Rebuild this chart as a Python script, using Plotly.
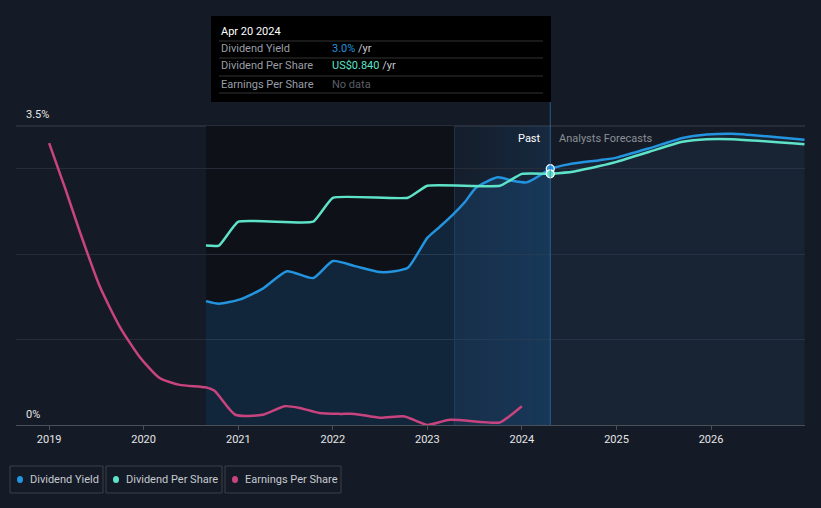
import plotly.graph_objects as go
import datetime as _dt

# ---------------- data ----------------
yield_dates = ["2020-08-29", "2020-10-18", "2021-01-08", "2021-04-07", "2021-07-08", "2021-10-17",
               "2022-01-01", "2022-03-27", "2022-07-01", "2022-08-28", "2022-10-18", "2022-12-03",
               "2023-01-01", "2023-02-18", "2023-04-09", "2023-05-26", "2023-07-09", "2023-09-30",
               "2023-11-26", "2024-01-19", "2024-04-20"]
yield_vals = [1.45, 1.42, 1.47, 1.60, 1.80, 1.72,
              1.92, 1.86, 1.79, 1.80, 1.84, 2.05,
              2.19, 2.32, 2.46, 2.61, 2.78, 2.90,
              2.86, 2.84, 3.00]

yield_fc_dates = ["2024-04-20", "2024-05-01", "2024-07-16", "2024-10-27", "2025-01-01", "2025-05-08",
                  "2025-09-13", "2025-12-16", "2026-03-25", "2026-08-04", "2026-12-28"]
yield_fc_vals = [3.00, 3.01, 3.06, 3.10, 3.13, 3.24, 3.36, 3.40, 3.41, 3.38, 3.34]

dps_dates = ["2020-08-29", "2020-10-18", "2021-01-01", "2021-10-17", "2022-01-01", "2022-10-18",
             "2023-01-01", "2023-10-08", "2024-01-01", "2024-04-20"]
dps_vals = [0.60, 0.60, 0.68, 0.68, 0.76, 0.76, 0.80, 0.80, 0.84, 0.84]

dps_fc_dates = ["2024-04-20", "2024-07-16", "2024-10-27", "2025-01-01", "2025-05-08",
                "2025-09-13", "2025-12-16", "2026-03-25", "2026-12-28"]
dps_fc_vals = [0.84, 0.847, 0.866, 0.88, 0.914, 0.947, 0.956, 0.956, 0.939]

eps_dates = ["2019-01-01", "2019-03-04", "2019-05-01", "2019-07-16", "2019-10-01", "2019-12-16",
             "2020-03-03", "2020-05-19", "2020-08-29", "2020-10-01", "2020-12-20", "2021-04-06",
             "2021-06-28", "2021-08-26", "2021-11-10", "2022-01-30", "2022-03-26", "2022-07-02",
             "2022-10-05", "2022-11-25", "2023-01-01", "2023-03-29", "2023-10-08", "2023-11-13",
             "2024-01-01"]
eps_vals = [3.30, 2.77, 2.25, 1.62, 1.15, 0.80,
            0.55, 0.47, 0.44, 0.40, 0.12, 0.12,
            0.22, 0.20, 0.14, 0.13, 0.13, 0.085,
            0.10, 0.04, 0.0, 0.06, 0.03, 0.10,
            0.22]

x_ticks = ["2019-01-01", "2020-01-01", "2021-01-01", "2022-01-01", "2023-01-01",
           "2024-01-01", "2025-01-01", "2026-01-01"]
x_tick_labels = ["2019", "2020", "2021", "2022", "2023", "2024", "2025", "2026"]

legend_names = ["Dividend Yield", "Dividend Per Share", "Earnings Per Share"]

today = "2024-04-20"
past_start = "2023-04-16"
data_start = "2020-08-29"

# ---------------- style ----------------
BG = "#151b26"
BLUE = "#2394df"
TEAL = "#5ee2c8"
PINK = "#c9447f"
FONT = "Roboto"

W, H = 821, 508
L, R, T, B = 16, 805, 126, 425


def px(x):
    return (x - L) / (R - L)


def py(y):
    return (B - y) / (B - T)


fig = go.Figure()

fig.add_trace(go.Scatter(x=yield_dates, y=yield_vals, mode="lines", fill="tozeroy",
                         fillcolor="rgba(30,110,180,0.22)",
                         line=dict(color=BLUE, width=2.5, shape="spline", smoothing=0.6),
                         showlegend=False, hoverinfo="skip"))
fig.add_trace(go.Scatter(x=yield_fc_dates, y=yield_fc_vals, mode="lines", fill="tozeroy",
                         fillcolor="rgba(40,90,140,0.14)",
                         line=dict(color=BLUE, width=2.5, shape="spline", smoothing=0.6),
                         showlegend=False, hoverinfo="skip"))
fig.add_trace(go.Scatter(x=dps_dates, y=dps_vals, yaxis="y2", mode="lines",
                         line=dict(color=TEAL, width=2.5, shape="spline", smoothing=0.4),
                         showlegend=False, hoverinfo="skip"))
fig.add_trace(go.Scatter(x=dps_fc_dates, y=dps_fc_vals, yaxis="y2", mode="lines",
                         line=dict(color=TEAL, width=2.5, shape="spline", smoothing=0.6),
                         showlegend=False, hoverinfo="skip"))
fig.add_trace(go.Scatter(x=eps_dates, y=eps_vals, yaxis="y3", mode="lines",
                         line=dict(color=PINK, width=2.5, shape="spline", smoothing=0.6),
                         showlegend=False, hoverinfo="skip"))
fig.add_trace(go.Scatter(x=[today], y=[yield_vals[-1]], mode="markers",
                         marker=dict(color=BLUE, size=8, line=dict(color="white", width=1.2)),
                         showlegend=False, hoverinfo="skip"))
fig.add_trace(go.Scatter(x=[today], y=[dps_vals[-1]], yaxis="y2", mode="markers",
                         marker=dict(color=TEAL, size=8, line=dict(color="white", width=1.2)),
                         showlegend=False, hoverinfo="skip"))

shapes = []
shapes.append(dict(type="line", xref="paper", yref="paper", x0=0, x1=1, y0=1, y1=1,
                   line=dict(color="#3c424c", width=1), layer="below"))
shapes.append(dict(type="rect", xref="x", yref="paper", x0=data_start, x1=past_start, y0=0, y1=1,
                   fillcolor="#0e1218", line=dict(width=0), layer="below"))
d0 = _dt.date.fromisoformat(past_start)
d1 = _dt.date.fromisoformat(today)
n = 12
span = (d1 - d0).days
for i in range(n):
    a0 = d0 + _dt.timedelta(days=span * i / n)
    a1 = d0 + _dt.timedelta(days=span * (i + 1) / n)
    alpha = 0.05 + 0.22 * (i + 1) / n
    shapes.append(dict(type="rect", xref="x", yref="paper", x0=a0.isoformat(), x1=a1.isoformat(), y0=0, y1=1,
                       fillcolor=f"rgba(25,80,130,{alpha:.3f})", line=dict(width=0), layer="below"))
shapes.append(dict(type="line", xref="x", yref="paper", x0=past_start, x1=past_start, y0=0, y1=1,
                   line=dict(color="rgba(40,80,110,0.5)", width=1), layer="below"))
shapes.append(dict(type="line", xref="x", yref="paper", x0=today, x1=today, y0=0, y1=py(100),
                   line=dict(color="rgba(45,120,180,0.7)", width=1), layer="above"))
# tooltip
shapes.append(dict(type="rect", xref="paper", yref="paper", x0=px(211), x1=px(551), y0=py(102), y1=py(16),
                   fillcolor="#000000", line=dict(width=0), layer="above"))
for yy in [41, 58, 76, 93]:
    shapes.append(dict(type="line", xref="paper", yref="paper", x0=px(219), x1=px(543), y0=py(yy), y1=py(yy),
                       line=dict(color="#333333", width=1), layer="above"))

annotations = []
legend_colors = [BLUE, TEAL, PINK]
legend_widths = [93, 116, 116]
x0 = 10
for name, col, wdt in zip(legend_names, legend_colors, legend_widths):
    x1 = x0 + wdt
    shapes.append(dict(type="rect", xref="paper", yref="paper", x0=px(x0), x1=px(x1), y0=py(493), y1=py(466),
                       fillcolor="rgba(0,0,0,0)", line=dict(color="#3a3f48", width=1), layer="above"))
    shapes.append(dict(type="circle", xref="paper", yref="paper", x0=px(x0 + 7), x1=px(x0 + 13),
                       y0=py(483), y1=py(476), fillcolor=col, line=dict(width=0), layer="above"))
    annotations.append(dict(text=name, xref="paper", yref="paper", x=px(x0 + 18), y=py(479.5),
                            xanchor="left", yanchor="middle", showarrow=False,
                            font=dict(family=FONT, size=11, color="#c5c9d0")))
    x0 = x1 + 3

annotations.append(dict(text="3.5%", xref="paper", yref="paper", x=px(24), y=py(114), xanchor="left",
                        yanchor="middle", showarrow=False, font=dict(family=FONT, size=11, color="#e6e6e6")))
annotations.append(dict(text="0%", xref="paper", yref="paper", x=px(24), y=py(414), xanchor="left",
                        yanchor="middle", showarrow=False, font=dict(family=FONT, size=11, color="#e6e6e6")))
annotations.append(dict(text="Past", xref="x", yref="paper", x=today, xshift=-7, y=py(138), xanchor="right",
                        yanchor="middle", showarrow=False, font=dict(family=FONT, size=11, color="#ffffff")))
annotations.append(dict(text="Analysts Forecasts", xref="x", yref="paper", x=today, xshift=7, y=py(138),
                        xanchor="left", yanchor="middle", showarrow=False,
                        font=dict(family=FONT, size=11, color="#8b9098")))

annotations.append(dict(text="Apr 20 2024", xref="paper", yref="paper", x=px(219), y=py(31), xanchor="left",
                        yanchor="middle", showarrow=False, font=dict(family=FONT, size=11, color="#ffffff")))
rows = [("Dividend Yield", f"<span style='color:{BLUE}'>3.0%</span> /yr", 48.5),
        ("Dividend Per Share", f"<span style='color:{TEAL}'>US$0.840</span> /yr", 66),
        ("Earnings Per Share", "<span style='color:#5a5f66'>No data</span>", 84)]
for lab, val, yy in rows:
    annotations.append(dict(text=lab, xref="paper", yref="paper", x=px(219), y=py(yy), xanchor="left",
                            yanchor="middle", showarrow=False, font=dict(family=FONT, size=11, color="#9a9ea6")))
    annotations.append(dict(text=val, xref="paper", yref="paper", x=px(330), y=py(yy), xanchor="left",
                            yanchor="middle", showarrow=False, font=dict(family=FONT, size=11, color="#c5c9d0")))

fig.update_layout(
    width=W, height=H,
    margin=dict(l=L, r=W - R, t=T, b=H - B),
    paper_bgcolor=BG, plot_bgcolor=BG,
    shapes=shapes, annotations=annotations,
    showlegend=False,
    xaxis=dict(type="date", range=["2018-08-26", "2026-12-30"], tickvals=x_ticks, ticktext=x_tick_labels,
               showgrid=False, zeroline=False, showline=True, linecolor="#4a4f58", linewidth=1,
               ticks="outside", ticklen=4, tickcolor="#4a4f58",
               tickfont=dict(family=FONT, size=11, color="#e6e6e6")),
    yaxis=dict(range=[0, 3.5], tickvals=[1, 2, 3], showticklabels=False, gridcolor="#262d38",
               gridwidth=1, zeroline=False, fixedrange=True),
    yaxis2=dict(range=[0, 1.0], overlaying="y", visible=False, showgrid=False),
    yaxis3=dict(range=[0, 3.5], overlaying="y", visible=False, showgrid=False),
)

fig.write_html("out.html", config={"displayModeBar": False},
               post_script="document.body.style.margin='0px';document.body.style.background='#151b26';")
